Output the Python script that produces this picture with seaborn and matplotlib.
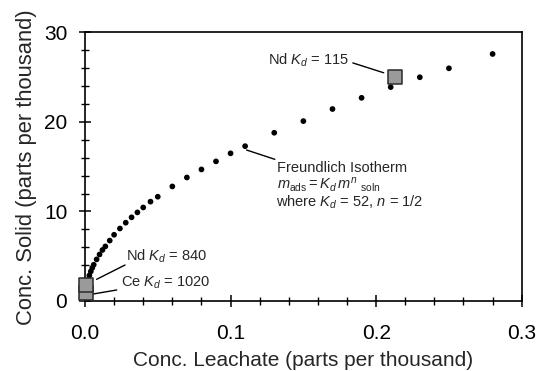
import matplotlib
matplotlib.use("Agg")
import matplotlib.pyplot as plt
import seaborn as sns
import pandas as pd
from matplotlib.ticker import MultipleLocator

# Isotherm points (parts per thousand)
leachate = [0.002, 0.003, 0.004, 0.005, 0.006, 0.008, 0.010, 0.012, 0.014,
            0.017, 0.020, 0.024, 0.028, 0.032, 0.036, 0.040, 0.045, 0.050,
            0.060, 0.070, 0.080, 0.090, 0.100, 0.110, 0.130, 0.150, 0.170,
            0.190, 0.210, 0.230, 0.250, 0.280]
solid = [2.35, 2.85, 3.3, 3.7, 4.05, 4.65, 5.2, 5.7, 6.1,
         6.75, 7.4, 8.1, 8.75, 9.35, 9.9, 10.45, 11.1, 11.65,
         12.8, 13.8, 14.7, 15.6, 16.5, 17.3, 18.8, 20.1, 21.45,
         22.7, 23.9, 25.0, 26.0, 27.6]

# Measured samples (squares), Ce first so Nd sits on top of it
sample_names = ["Ce1020", "Nd840", "Nd115"]
sample_leachate = [0.0008, 0.0008, 0.213]
sample_solid = [0.9, 1.75, 25.0]

sns.set_style("ticks")
plt.rcParams['font.family'] = ['Liberation Sans', 'DejaVu Sans']
plt.rcParams['mathtext.fontset'] = 'custom'
plt.rcParams['mathtext.rm'] = 'Liberation Sans'
plt.rcParams['mathtext.it'] = 'Liberation Sans:italic'

fig = plt.figure(figsize=(5.43, 3.71), dpi=100)
ax = fig.add_axes([0.1565, 0.1887, 0.8043, 0.7237])

iso = pd.DataFrame({'x': leachate, 'y': solid})
samples = pd.DataFrame({'x': sample_leachate, 'y': sample_solid, 'name': sample_names})

sns.scatterplot(data=iso, x='x', y='y', color='black', s=17,
                edgecolor='none', ax=ax, zorder=3)
for i in range(len(samples)):
    sns.scatterplot(data=samples.iloc[[i]], x='x', y='y', marker='s', s=105,
                    color='#9a9a9a', edgecolor='#2a2a2a', linewidth=1.1,
                    ax=ax, zorder=4 + i, clip_on=False)

ax.set_xlim(0, 0.3)
ax.set_ylim(0, 30)
ax.xaxis.set_minor_locator(MultipleLocator(0.02))
ax.yaxis.set_major_locator(MultipleLocator(10))
ax.yaxis.set_minor_locator(MultipleLocator(2))
ax.set_xticks([0, 0.1, 0.2, 0.3])
ax.set_xticklabels(['0.0', '0.1', '0.2', '0.3'])
ax.tick_params(which='major', direction='inout', length=8.5, width=1.1,
               labelsize=15, color='black', labelcolor='black')
ax.tick_params(which='minor', direction='inout', length=5.5, width=1.0,
               color='black')
ax.tick_params(axis='x', which='major', pad=12)
ax.tick_params(axis='y', which='major', pad=8.5)
for side in ['top', 'right', 'left', 'bottom']:
    ax.spines[side].set_visible(True)
    ax.spines[side].set_linewidth(1.2)
    ax.spines[side].set_color('black')

ax.set_xlabel('Conc. Leachate (parts per thousand)', fontsize=15, labelpad=6)
ax.set_ylabel('Conc. Solid (parts per thousand)', fontsize=15.8, labelpad=5)

# Annotations
fs = 10.5
line = dict(arrowstyle='-', color='black', lw=1.0, shrinkA=0, shrinkB=0)

ax.text(0.1815, 26.9, r'Nd $K_d$ = 115', fontsize=fs, ha='right', va='center')
ax.annotate('', xy=(0.2052, 25.5), xytext=(0.184, 26.6), arrowprops=line)

ax.text(0.1316, 14.85, 'Freundlich Isotherm', fontsize=fs, ha='left', va='center')
ax.annotate('', xy=(0.111, 16.87), xytext=(0.1304, 15.83), arrowprops=line)
ax.text(0.132, 12.95, r'$m_{\mathrm{ads}} = K_d\,m^n\ _{\mathrm{soln}}$',
        fontsize=fs, ha='left', va='center')
ax.text(0.131, 11.05, r'where $K_d$ = 52, $n$ = $1/2$',
        fontsize=fs, ha='left', va='center')

ax.text(0.0281, 4.95, r'Nd $K_d$ = 840', fontsize=fs, ha='left', va='center')
ax.annotate('', xy=(0.008, 2.42), xytext=(0.0275, 4.02), arrowprops=line)

ax.text(0.0245, 1.98, r'Ce $K_d$ = 1020', fontsize=fs, ha='left', va='center')
ax.annotate('', xy=(0.0016, 0.67), xytext=(0.0218, 1.23), arrowprops=line)

fig.savefig('out.png', dpi=100)
